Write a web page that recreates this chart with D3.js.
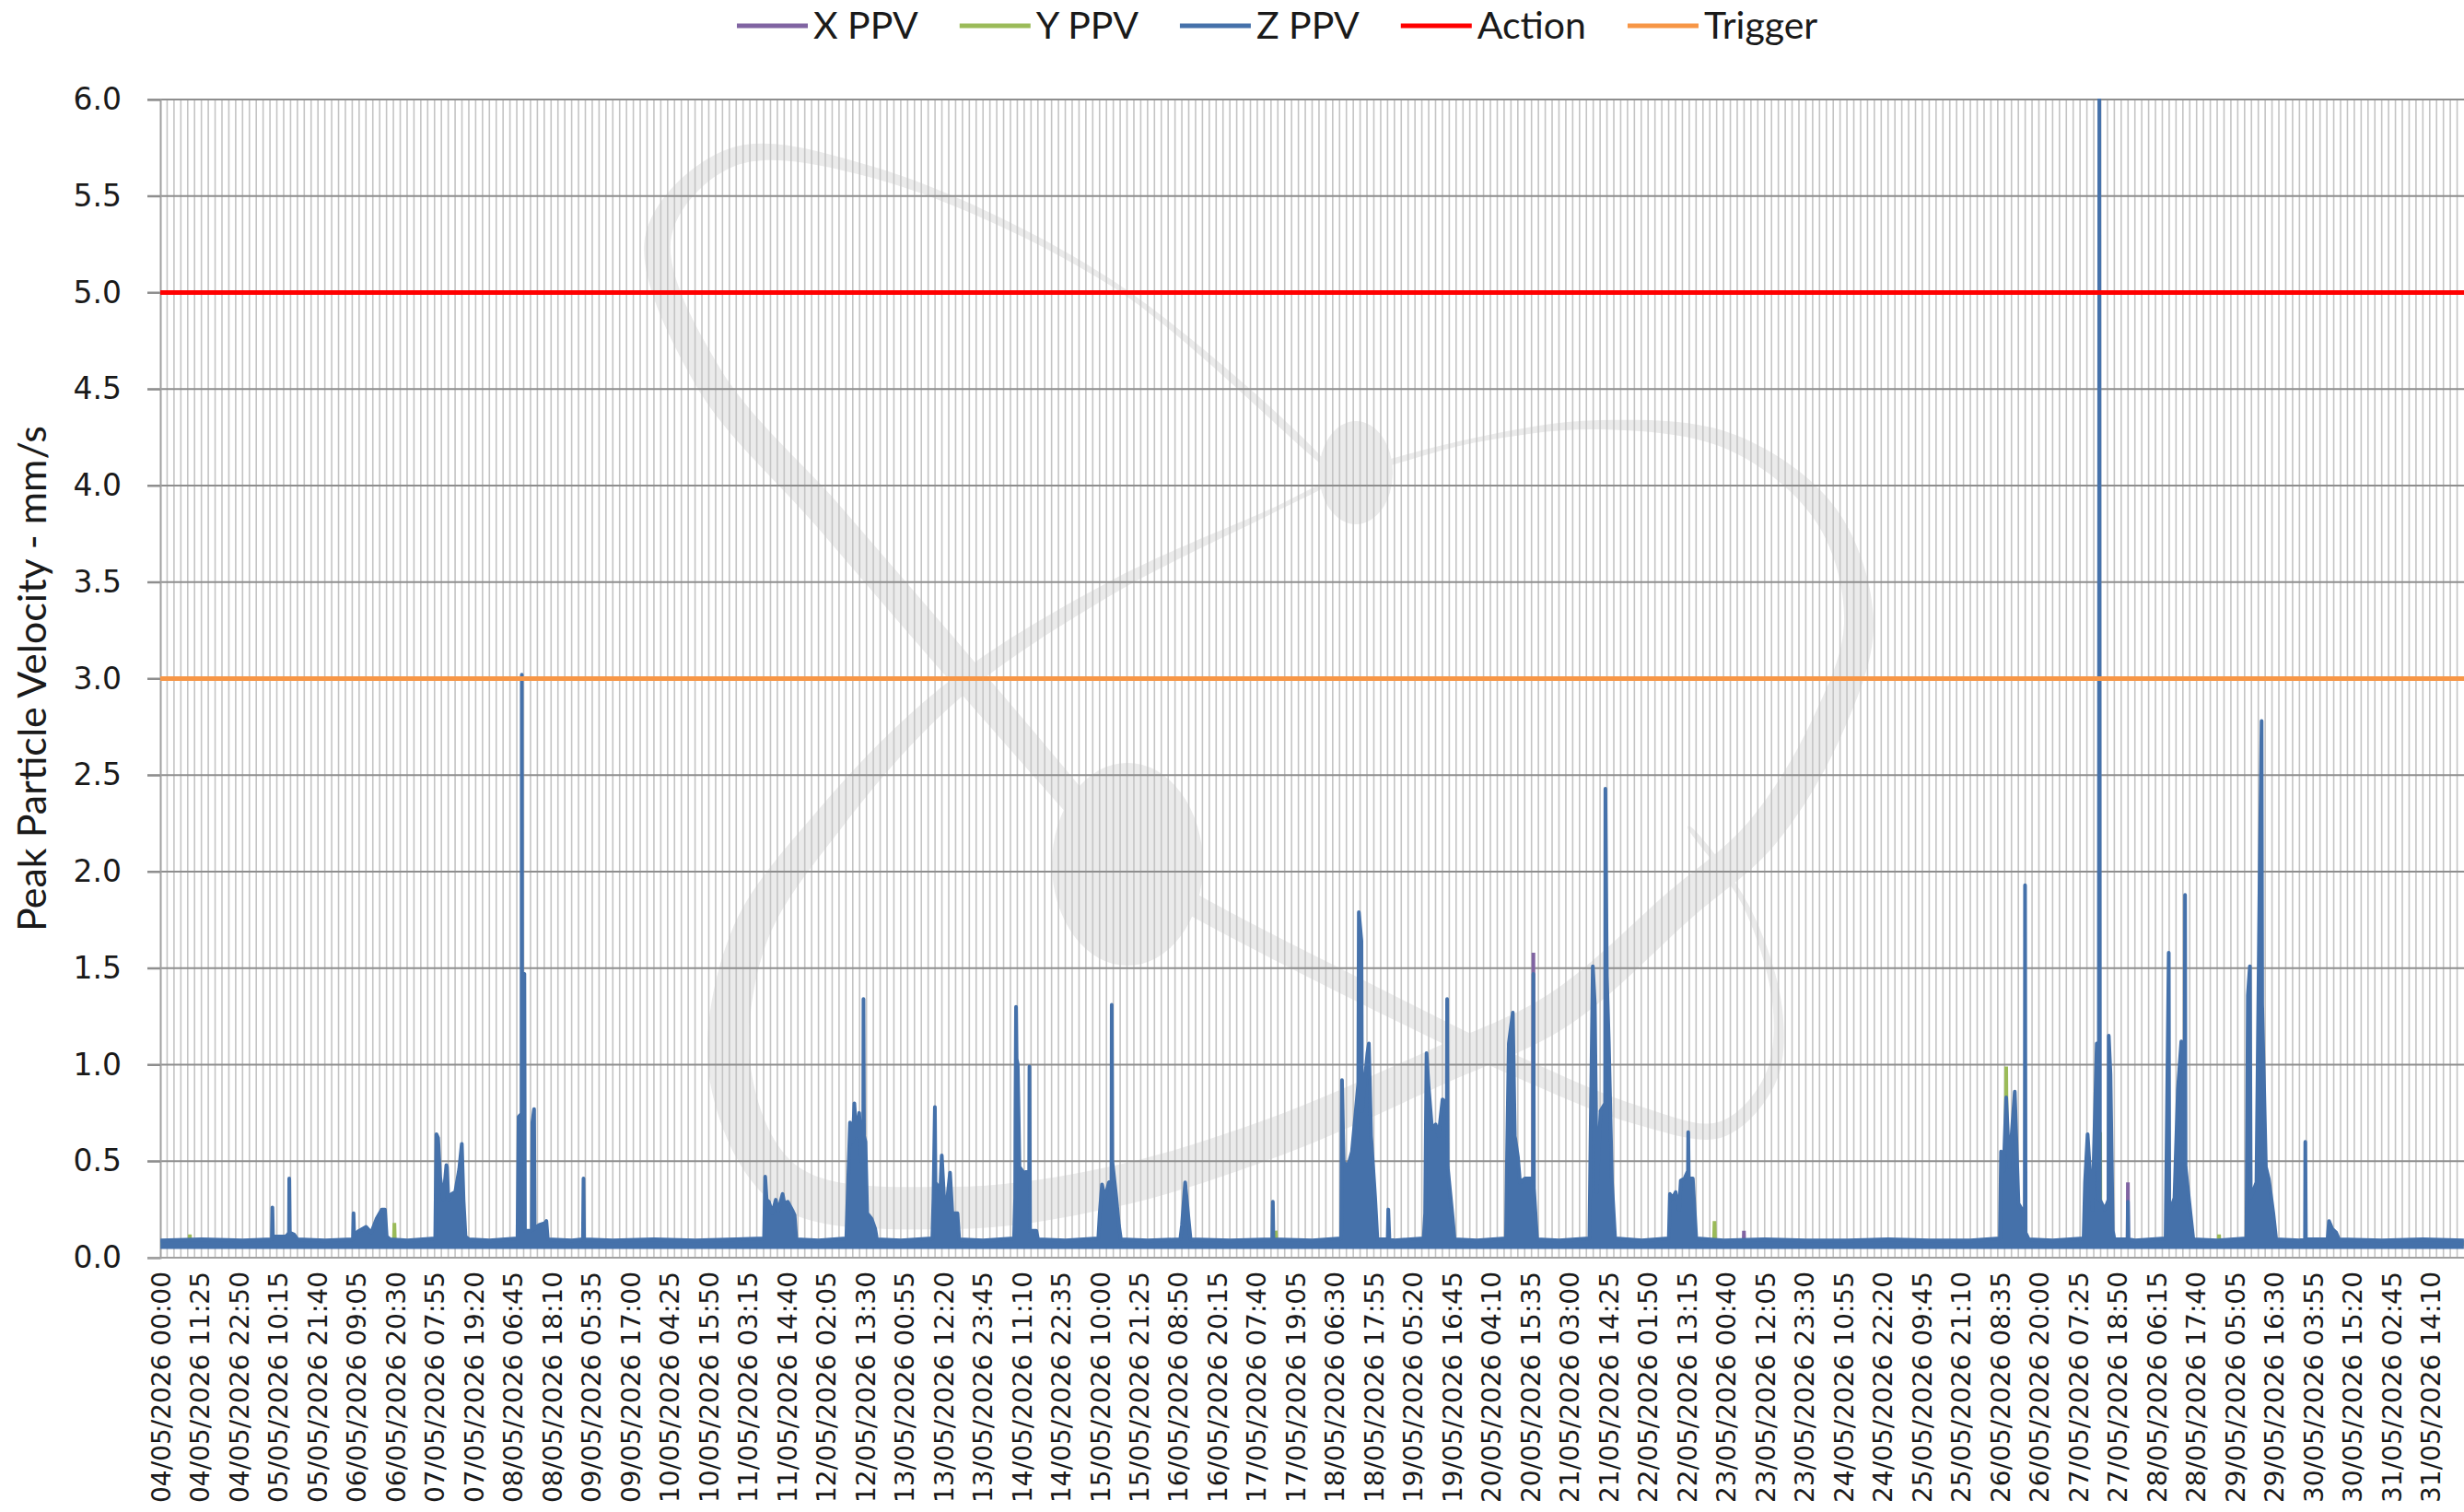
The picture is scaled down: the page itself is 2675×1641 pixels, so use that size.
<!DOCTYPE html>
<html>
<head>
<meta charset="utf-8">
<script src="https://cdnjs.cloudflare.com/ajax/libs/d3/7.8.5/d3.min.js"></script>
<style>
  body { margin: 0; background: #fff; }
  svg { display: block; }
</style>
</head>
<body>
<div id="chart"></div>
<script>
// ---- data ----
const tickLabels = [
  "04/05/2026 00:00","04/05/2026 11:25","04/05/2026 22:50","05/05/2026 10:15","05/05/2026 21:40",
  "06/05/2026 09:05","06/05/2026 20:30","07/05/2026 07:55","07/05/2026 19:20","08/05/2026 06:45",
  "08/05/2026 18:10","09/05/2026 05:35","09/05/2026 17:00","10/05/2026 04:25","10/05/2026 15:50",
  "11/05/2026 03:15","11/05/2026 14:40","12/05/2026 02:05","12/05/2026 13:30","13/05/2026 00:55",
  "13/05/2026 12:20","13/05/2026 23:45","14/05/2026 11:10","14/05/2026 22:35","15/05/2026 10:00",
  "15/05/2026 21:25","16/05/2026 08:50","16/05/2026 20:15","17/05/2026 07:40","17/05/2026 19:05",
  "18/05/2026 06:30","18/05/2026 17:55","19/05/2026 05:20","19/05/2026 16:45","20/05/2026 04:10",
  "20/05/2026 15:35","21/05/2026 03:00","21/05/2026 14:25","22/05/2026 01:50","22/05/2026 13:15",
  "23/05/2026 00:40","23/05/2026 12:05","23/05/2026 23:30","24/05/2026 10:55","24/05/2026 22:20",
  "25/05/2026 09:45","25/05/2026 21:10","26/05/2026 08:35","26/05/2026 20:00","27/05/2026 07:25",
  "27/05/2026 18:50","28/05/2026 06:15","28/05/2026 17:40","29/05/2026 05:05","29/05/2026 16:30",
  "30/05/2026 03:55","30/05/2026 15:20","31/05/2026 02:45","31/05/2026 14:10"
];
const yTicks = [0, 0.5, 1, 1.5, 2, 2.5, 3, 3.5, 4, 4.5, 5, 5.5, 6];
const actionLevel = 5.0;
const triggerLevel = 3.0;
const zNoiseFloor = 0.045;

const zPPV = [
  ["04/05 00:00",.09],["04/05 12:00",.095],["05/05 00:00",.09],
  ["05/05 08:30",.095],["05/05 08:40",.26],["05/05 08:50",.11],["05/05 12:30",.11],["05/05 13:10",.12],
  ["05/05 13:30",.13],["05/05 13:35",.41],["05/05 13:45",.13],["05/05 15:00",.12],["05/05 16:00",.095],
  ["06/05 00:00",.09],["06/05 08:10",.095],["06/05 08:20",.23],["06/05 08:30",.12],["06/05 10:00",.14],
  ["06/05 12:00",.16],["06/05 13:30",.13],["06/05 15:00",.20],["06/05 16:35",.25],["06/05 17:30",.25],
  ["06/05 18:00",.11],["06/05 19:00",.095],
  ["07/05 00:00",.09],["07/05 08:10",.10],["07/05 08:30",.64],["07/05 09:00",.62],["07/05 09:35",.42],
  ["07/05 10:30",.30],["07/05 11:25",.48],["07/05 11:35",.47],["07/05 12:00",.30],["07/05 13:00",.33],
  ["07/05 14:00",.34],["07/05 15:10",.46],["07/05 15:55",.59],["07/05 16:25",.30],["07/05 17:00",.11],
  ["07/05 18:00",.095],
  ["08/05 00:00",.09],["08/05 08:10",.10],["08/05 08:30",.73],["08/05 09:00",.74],["08/05 09:20",.72],
  ["08/05 09:25",3.02],["08/05 09:30",1.48],["08/05 10:10",1.47],["08/05 10:20",.14],["08/05 12:20",.14],
  ["08/05 12:30",.70],["08/05 13:00",.77],["08/05 13:10",.15],["08/05 14:30",.17],["08/05 16:10",.18],
  ["08/05 16:35",.19],["08/05 17:00",.095],
  ["09/05 00:00",.09],["09/05 03:15",.095],["09/05 03:25",.41],["09/05 03:35",.095],["09/05 12:00",.09],
  ["10/05 00:00",.095],["10/05 12:00",.09],["11/05 00:00",.095],
  ["11/05 08:05",.10],["11/05 08:25",.42],["11/05 08:50",.30],["11/05 09:30",.29],["11/05 10:30",.23],
  ["11/05 11:30",.30],["11/05 12:10",.24],["11/05 13:30",.33],["11/05 14:00",.28],["11/05 15:00",.29],
  ["11/05 16:30",.24],["11/05 17:00",.22],["11/05 17:30",.095],
  ["12/05 00:00",.09],["12/05 08:05",.10],["12/05 08:25",.29],["12/05 09:10",.70],["12/05 10:00",.60],
  ["12/05 10:25",.80],["12/05 11:00",.63],["12/05 11:50",.75],["12/05 12:30",.50],["12/05 13:00",.55],
  ["12/05 13:05",1.34],["12/05 13:15",.63],["12/05 13:40",.60],["12/05 14:10",.23],["12/05 15:30",.20],
  ["12/05 16:30",.15],["12/05 17:00",.095],
  ["13/05 00:00",.09],["13/05 09:10",.10],["13/05 09:30",.31],["13/05 09:55",.78],["13/05 10:05",.39],
  ["13/05 11:30",.35],["13/05 11:55",.53],["13/05 12:35",.31],["13/05 13:30",.30],["13/05 14:20",.44],
  ["13/05 15:00",.23],["13/05 16:30",.23],["13/05 17:00",.095],
  ["14/05 00:00",.09],["14/05 09:00",.10],["14/05 09:20",.31],["14/05 09:25",.75],["14/05 09:35",1.30],
  ["14/05 09:45",1.03],["14/05 10:05",1.00],["14/05 10:35",.47],["14/05 11:50",.44],["14/05 13:25",.45],
  ["14/05 13:30",.99],["14/05 13:40",.14],["14/05 15:30",.14],["14/05 16:00",.095],
  ["15/05 00:00",.09],["15/05 09:35",.10],["15/05 10:00",.23],["15/05 10:40",.38],["15/05 11:30",.31],
  ["15/05 12:40",.39],["15/05 13:25",.40],["15/05 13:30",1.31],["15/05 13:40",.50],["15/05 14:50",.31],
  ["15/05 15:35",.17],["15/05 16:10",.095],
  ["16/05 00:00",.09],["16/05 09:30",.095],["16/05 10:00",.17],["16/05 10:55",.39],["16/05 11:55",.20],
  ["16/05 12:30",.095],
  ["17/05 00:00",.09],["17/05 12:20",.095],["17/05 12:30",.29],["17/05 12:40",.095],
  ["18/05 00:00",.09],["18/05 08:25",.10],["18/05 08:40",.92],["18/05 09:10",.49],["18/05 10:30",.48],
  ["18/05 11:35",.55],["18/05 13:25",.90],["18/05 13:35",1.79],["18/05 14:20",1.64],["18/05 14:30",.76],
  ["18/05 16:05",1.06],["18/05 16:30",1.11],["18/05 17:10",.63],["18/05 18:20",.31],["18/05 19:00",.095],
  ["18/05 22:00",.095],["18/05 22:10",.25],["18/05 22:30",.095],
  ["19/05 00:00",.09],["19/05 08:30",.10],["19/05 08:55",.23],["19/05 09:20",1.06],["19/05 09:55",.89],
  ["19/05 10:55",.67],["19/05 12:00",.69],["19/05 12:50",.63],["19/05 14:00",.82],["19/05 15:15",.80],
  ["19/05 15:20",1.34],["19/05 15:30",.47],["19/05 17:00",.20],["19/05 17:30",.095],
  ["20/05 00:00",.09],["20/05 08:30",.10],["20/05 08:50",.55],["20/05 09:20",1.11],["20/05 10:30",1.27],
  ["20/05 11:05",.63],["20/05 12:00",.52],["20/05 12:35",.39],["20/05 14:00",.41],["20/05 16:25",.41],
  ["20/05 16:30",1.47],["20/05 16:40",.36],["20/05 17:35",.095],
  ["21/05 00:00",.09],["21/05 08:50",.10],["21/05 09:10",.60],["21/05 09:50",1.51],["21/05 10:25",1.31],
  ["21/05 11:00",.34],["21/05 12:05",.76],["21/05 13:25",.80],["21/05 13:30",2.43],["21/05 13:55",1.46],
  ["21/05 14:30",1.11],["21/05 15:25",.39],["21/05 16:20",.10],
  ["22/05 00:00",.09],["22/05 08:00",.10],["22/05 08:20",.33],["22/05 09:10",.31],["22/05 10:00",.34],
  ["22/05 11:00",.25],["22/05 11:30",.40],["22/05 12:35",.41],["22/05 13:35",.45],["22/05 13:40",.65],
  ["22/05 13:50",.41],["22/05 15:00",.41],["22/05 16:00",.10],
  ["23/05 00:00",.09],["23/05 12:00",.095],["24/05 00:00",.09],["24/05 12:00",.09],["25/05 00:00",.095],
  ["25/05 12:00",.09],
  ["26/05 00:00",.09],["26/05 08:35",.10],["26/05 08:55",.55],["26/05 09:40",.45],["26/05 10:25",.83],
  ["26/05 11:20",.47],["26/05 12:55",.86],["26/05 14:00",.28],["26/05 15:00",.25],["26/05 15:50",.25],
  ["26/05 15:55",1.93],["26/05 16:05",.13],["26/05 17:00",.095],
  ["27/05 00:00",.09],["27/05 09:00",.10],["27/05 09:25",.39],["27/05 10:10",.64],["27/05 10:50",.45],
  ["27/05 11:35",.25],["27/05 12:50",1.11],["27/05 13:25",.30],["27/05 13:35",6.20],["27/05 13:45",.30],
  ["27/05 15:10",.25],["27/05 16:15",.30],["27/05 16:20",1.15],["27/05 16:50",.95],["27/05 17:30",.14],
  ["27/05 18:00",.095],["27/05 21:50",.095],["27/05 21:55",.29],["27/05 22:05",.095],
  ["28/05 00:00",.09],["28/05 08:55",.10],["28/05 09:20",.77],["28/05 09:50",1.58],["28/05 10:00",.23],
  ["28/05 11:30",.31],["28/05 12:30",.87],["28/05 13:30",1.12],["28/05 14:30",.90],["28/05 14:35",1.88],
  ["28/05 14:45",.47],["28/05 16:10",.23],["28/05 17:00",.095],
  ["29/05 00:00",.09],["29/05 08:30",.10],["29/05 08:55",1.36],["29/05 09:30",1.51],["29/05 09:45",.31],
  ["29/05 11:25",.39],["29/05 12:25",2.08],["29/05 12:55",2.78],["29/05 13:05",1.31],["29/05 14:10",.47],
  ["29/05 15:00",.41],["29/05 16:20",.23],["29/05 17:10",.095],
  ["30/05 00:00",.09],["30/05 01:35",.095],["30/05 01:40",.60],["30/05 01:50",.095],["30/05 08:10",.095],
  ["30/05 08:35",.19],["30/05 09:30",.15],["30/05 10:40",.13],["30/05 11:30",.095],
  ["31/05 00:00",.09],["31/05 12:00",.095],["31/05 23:55",.09]
];

const yPPV = [
  ["04/05 00:00",.07],["04/05 08:30",.07],["04/05 08:35",.12],["04/05 08:45",.07],
  ["06/05 20:05",.07],["06/05 20:15",.18],["06/05 20:25",.07],
  ["17/05 13:15",.07],["17/05 13:20",.14],["17/05 13:30",.07],
  ["22/05 21:10",.07],["22/05 21:20",.19],["22/05 21:30",.07],
  ["26/05 09:50",.07],["26/05 10:10",.30],["26/05 10:25",.99],["26/05 10:40",.40],["26/05 11:00",.07],
  ["27/05 13:45",.07],["27/05 13:50",.65],["27/05 13:55",.07],
  ["29/05 00:25",.07],["29/05 00:30",.12],["29/05 00:40",.07],
  ["31/05 23:55",.07]
];

const xPPV = [
  ["04/05 00:00",.07],
  ["20/05 16:25",.07],["20/05 16:30",1.58],["20/05 16:35",.07],
  ["23/05 05:50",.07],["23/05 05:55",.14],["23/05 06:00",.07],
  ["27/05 21:50",.07],["27/05 21:55",.39],["27/05 22:00",.07],
  ["31/05 23:55",.07]
];

// ---- layout ----
const W = 2675, H = 1641;
const plot = { left: 174, right: 2675, top: 108, bottom: 1365 };
const colors = { x: "#8064A2", y: "#9BBB59", z: "#4571AA", action: "#FF0000", trigger: "#F79646" };
const labelFont = "Lato, 'Liberation Sans', Arial, sans-serif";
const tickFont = "'DejaVu Sans', Verdana, sans-serif";

const parseFull = d3.timeParse("%d/%m/%Y %H:%M");
const formatFull = d3.timeFormat("%d/%m/%Y %H:%M");
const parseShort = s => parseFull(s.slice(0, 5) + "/2026" + s.slice(5));
const half = 150000; // half of a 5-minute category, ms
const mid = t => new Date(t.getTime() + half);

const start = parseFull("04/05/2026 00:00");
const end = parseFull("01/06/2026 00:00");

const x = d3.scaleTime().domain([start, end]).range([plot.left, plot.right]);
const y = d3.scaleLinear().domain([0, 6]).range([plot.bottom, plot.top]);

const toPts = arr => arr.map(d => ({ t: parseShort(d[0]), v: d[1] }));
const zData = toPts(zPPV), yData = toPts(yPPV), xData = toPts(xPPV);

const svg = d3.select("#chart").append("svg")
    .attr("width", W)
    .attr("height", H);

svg.append("defs").append("clipPath").attr("id", "plotClip")
  .append("rect")
    .attr("x", plot.left).attr("y", plot.top - 1)
    .attr("width", plot.right - plot.left).attr("height", plot.bottom - plot.top + 1);

// ---- background watermark (decoration) ----
const wmA = [[1440,505,2],[1208,308,6],[944,186,12],[794,171,20],[715,255,28],[768,408,32],[900,561,34],
  [1032,714,34],[1164,867,30],[1224,938,26],[1296,982,24],[1472,1073,24],[1648,1158,22],[1780,1211,20],
  [1868,1226,17],[1921,1173,14],[1930,1096,10],[1895,982,6],[1833,897,2]];
const wmB = [[1472,513,2],[1600,478,5],[1736,461,10],[1880,480,18],[1983,560,26],[2018,676,32],[1983,790,36],
  [1912,905,38],[1824,982,38],[1692,1096,40],[1560,1158,40],[1384,1234,42],[1208,1288,44],[1032,1311,46],
  [856,1288,48],[794,1173,46],[812,1020,40],[900,890,32],[1032,752,22],[1208,637,14],[1384,553,5],[1440,525,2]];

function taper(pts) {
  const left = [], right = [];
  pts.forEach((p, i) => {
    const a = pts[Math.max(i - 1, 0)], b = pts[Math.min(i + 1, pts.length - 1)];
    const dx = b[0] - a[0], dy = b[1] - a[1];
    const len = Math.hypot(dx, dy) || 1;
    const nx = -dy / len, ny = dx / len, h = p[2] / 2;
    left.push([p[0] + nx * h, p[1] + ny * h]);
    right.push([p[0] - nx * h, p[1] - ny * h]);
  });
  return left.concat(right.reverse());
}

const wm = svg.append("g").attr("fill", "#ebebeb");
const closed = d3.line().curve(d3.curveCatmullRomClosed);
wm.append("path").attr("d", closed(taper(wmA)));
wm.append("path").attr("d", closed(taper(wmB)));
wm.append("ellipse").attr("cx", 1472).attr("cy", 513).attr("rx", 40).attr("ry", 56);
wm.append("ellipse").attr("cx", 1224).attr("cy", 938).attr("rx", 82).attr("ry", 110);

// ---- gridlines ----
const vGrid = d3.timeHour.every(2).range(start, end);
svg.append("g")
  .selectAll("line")
  .data(vGrid.slice(1))
  .enter().append("line")
    .attr("x1", d => x(d)).attr("x2", d => x(d))
    .attr("y1", plot.top).attr("y2", plot.bottom)
    .attr("stroke", "#c4c4c4")
    .attr("stroke-width", 1.6);

svg.append("g")
  .selectAll("line")
  .data(yTicks.slice(1))
  .enter().append("line")
    .attr("x1", plot.left - 14).attr("x2", plot.right)
    .attr("y1", d => y(d)).attr("y2", d => y(d))
    .attr("stroke", "#8e8e8e")
    .attr("stroke-width", 2);

// ---- axes ----
const yAxis = svg.append("g")
    .attr("transform", "translate(" + plot.left + ",0)")
    .call(d3.axisLeft(y).tickValues(yTicks).tickFormat(d3.format(".1f")).tickSize(14).tickPadding(28));
yAxis.select(".domain").attr("stroke", "#a0a0a0").attr("stroke-width", 2);
yAxis.selectAll(".tick line").attr("stroke", "#8e8e8e").attr("stroke-width", 2);
yAxis.selectAll(".tick text")
    .attr("font-family", tickFont).attr("font-size", 33).attr("fill", "#1a1a1a");

svg.append("line")
    .attr("x1", plot.left - 14).attr("x2", plot.right)
    .attr("y1", plot.bottom).attr("y2", plot.bottom)
    .attr("stroke", "#a0a0a0").attr("stroke-width", 2);

const xAxis = svg.append("g")
    .attr("transform", "translate(0," + plot.bottom + ")")
    .call(d3.axisBottom(x).tickValues(tickLabels.map(s => mid(parseFull(s)))).tickSize(0)
      .tickFormat(d => formatFull(new Date(d.getTime() - half))));
xAxis.select(".domain").remove();
xAxis.selectAll(".tick text")
    .attr("font-family", tickFont).attr("font-size", 28).attr("fill", "#1a1a1a")
    .attr("text-anchor", "end")
    .attr("transform", "rotate(-90)")
    .attr("x", -15).attr("y", 0).attr("dy", "0.36em");

// y axis title
svg.append("text")
    .attr("transform", "translate(50," + ((plot.top + plot.bottom) / 2) + ") rotate(-90)")
    .attr("text-anchor", "middle")
    .attr("font-family", labelFont)
    .attr("font-size", 43)
    .attr("fill", "#1a1a1a")
    .text("Peak Particle Velocity - mm/s");

// ---- series ----
const series = svg.append("g").attr("clip-path", "url(#plotClip)");
const line = d3.line().x(d => x(mid(d.t))).y(d => y(d.v));

series.append("path").datum(xData)
    .attr("d", line).attr("fill", "none").attr("stroke", colors.x).attr("stroke-width", 4);
series.append("path").datum(yData)
    .attr("d", line).attr("fill", "none").attr("stroke", colors.y).attr("stroke-width", 4);

// Z PPV: dense 5-minute noise reads as a filled band, so fill under the line
const zArea = d3.area().x(d => x(mid(d.t))).y0(y(zNoiseFloor)).y1(d => y(d.v));
series.append("path").datum(zData)
    .attr("d", zArea).attr("fill", colors.z);
series.append("path").datum(zData)
    .attr("d", line).attr("fill", "none").attr("stroke", colors.z)
    .attr("stroke-width", 4).attr("stroke-linejoin", "round");

// Action / Trigger levels
[[actionLevel, colors.action], [triggerLevel, colors.trigger]].forEach(([lvl, col]) => {
  series.append("line")
      .attr("x1", plot.left).attr("x2", plot.right)
      .attr("y1", y(lvl)).attr("y2", y(lvl))
      .attr("stroke", col).attr("stroke-width", 5);
});

// ---- legend ----
const legendItems = [["X PPV", colors.x], ["Y PPV", colors.y], ["Z PPV", colors.z],
                     ["Action", colors.action], ["Trigger", colors.trigger]];
const legend = svg.append("g");
let lx = 800;
legendItems.forEach(([name, col]) => {
  legend.append("line")
      .attr("x1", lx).attr("x2", lx + 77)
      .attr("y1", 28).attr("y2", 28)
      .attr("stroke", col).attr("stroke-width", 5);
  const t = legend.append("text")
      .attr("x", lx + 83).attr("y", 42)
      .attr("font-family", labelFont).attr("font-size", 41).attr("fill", "#1a1a1a")
      .text(name);
  lx += 83 + t.node().getComputedTextLength() + 45;
});
</script>
</body>
</html>
